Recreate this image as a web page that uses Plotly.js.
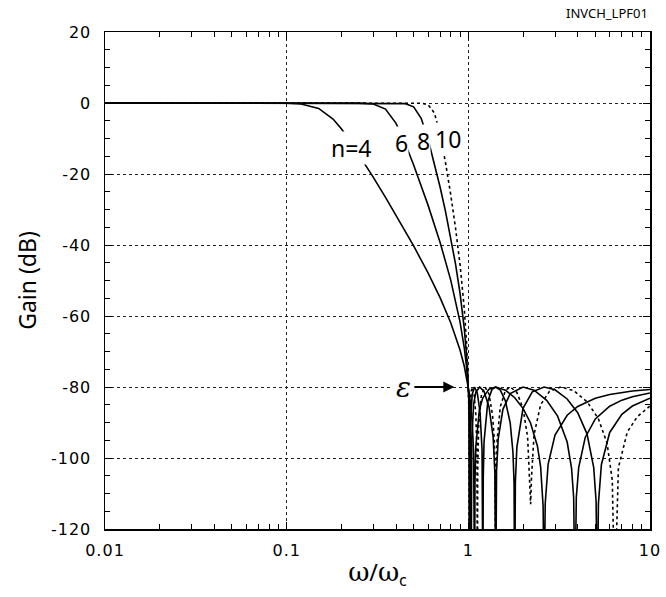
<!DOCTYPE html>
<html>
<head>
<meta charset="utf-8">
<script src="https://cdn.plot.ly/plotly-3.0.1.min.js"></script>
<style>
html,body{margin:0;padding:0;background:#fff;}
#chart{width:666px;height:597px;}
#chart .xtick text, #chart .ytick text{letter-spacing:1px;}
</style>
</head>
<body>
<div id="chart"></div>
<script>
// Normalised frequency (ω/ωc) and gain (dB), one pair per filter order
const w4 = [0.01,0.05,0.1,0.12,0.15,0.18,0.2,0.22,0.25,0.3,0.35,0.4,0.45,0.5,0.6,0.7,0.8,0.9,0.95,0.98,1,1.01,1.03,1.05,1.07,1.078,1.0824,1.088,1.1,1.15,1.2,1.3,1.4142,1.6,1.8,2,2.2,2.4,2.5,2.58,2.6131,2.65,2.75,3,3.5,4,5,6,7,8,10];
const g4 = [0,0,-0.07,-0.29,-1.52,-4.53,-7.27,-10.2,-14.49,-20.95,-26.59,-31.59,-36.11,-40.27,-47.85,-54.9,-61.9,-69.59,-74.17,-77.44,-80,-81.46,-84.93,-89.76,-98.75,-108,-140,-106.2,-96.6,-86.47,-83.13,-80.6,-80,-80.88,-83.01,-86.02,-90.13,-96.6,-102.5,-113.5,-140,-112.8,-101.7,-93.56,-87.95,-85.49,-83.19,-82.11,-81.51,-81.14,-80.72];

const w6 = [0.01,0.1,0.2,0.25,0.3,0.35,0.4,0.45,0.5,0.55,0.6,0.7,0.8,0.9,0.95,0.98,1,1.01,1.02,1.03,1.033,1.0353,1.038,1.045,1.07,1.1,1.1547,1.22,1.3,1.37,1.4,1.4142,1.43,1.46,1.55,1.7,2,2.3,2.7,3.1,3.5,3.7,3.8,3.8637,3.93,4.05,4.4,5,6,7,8,10];
const g6 = [0,0,0,-0.03,-0.29,-1.72,-5.72,-11.47,-17.47,-23.24,-28.77,-39.35,-49.89,-61.64,-69.01,-74.77,-80,-83.56,-88.6,-98.5,-105.9,-140,-104.5,-94.2,-84.82,-81.46,-80,-81.22,-85.6,-94.2,-104.3,-140,-103.6,-94.7,-86.29,-81.86,-80,-80.88,-83.77,-88.2,-95.5,-102.9,-111.1,-140,-111.1,-102.7,-94.2,-89.0,-85.42,-83.7,-82.73,-81.67];

const w8 = [0.01,0.1,0.3,0.4,0.45,0.5,0.55,0.6,0.65,0.7,0.75,0.8,0.85,0.9,0.95,0.98,1,1.005,1.012,1.018,1.0196,1.022,1.03,1.05,1.0824,1.12,1.16,1.19,1.198,1.2027,1.208,1.22,1.28,1.35,1.4142,1.5,1.6,1.7,1.76,1.785,1.8,1.815,1.85,2,2.25,2.6131,3,3.5,4,4.5,4.9,5.05,5.1258,5.2,5.4,6,7,8,10];
const g8 = [0,0,0,-0.02,-0.18,-1.08,-4.31,-10.13,-16.9,-23.81,-30.76,-37.86,-45.32,-53.56,-63.53,-71.67,-80,-83.13,-89.6,-103.8,-140,-100.7,-88.9,-82.07,-80,-81.65,-87.03,-97.8,-106.5,-140,-105.6,-95.5,-84.04,-80.67,-80,-80.89,-83.94,-90.1,-98.3,-106.9,-140,-106.9,-96.9,-86.02,-81.35,-80,-80.8,-83.37,-87.23,-93.2,-102.7,-112.2,-140,-112.9,-101.9,-92.8,-87.7,-85.37,-83.15];

const w10 = [0.01,0.1,0.4,0.5,0.55,0.6,0.65,0.7,0.75,0.8,0.85,0.9,0.95,0.98,1,1.004,1.009,1.011,1.0125,1.014,1.02,1.035,1.0515,1.075,1.1,1.115,1.12,1.1223,1.126,1.14,1.18,1.2361,1.3,1.36,1.39,1.405,1.4142,1.424,1.44,1.5,1.6,1.7013,1.85,2,2.12,2.18,2.2027,2.225,2.3,2.5,2.8,3.2361,3.8,4.5,5.2,5.8,6.2,6.3925,6.7,7.5,8.5,10];
const g10 = [0,0,0,-0.01,-0.06,-0.47,-2.77,-8.84,-17.03,-25.83,-35.15,-45.45,-57.95,-68.36,-80,-84.04,-92.7,-100.5,-140,-100.7,-87.96,-81.31,-80,-81.77,-87.87,-97.7,-108,-140,-103.8,-90.7,-82.22,-80,-81.97,-88.05,-95.1,-103.6,-140,-103.3,-95.0,-85.54,-80.98,-80,-81.51,-86.02,-94.1,-105.6,-113,-105.9,-93.4,-85.0,-81.18,-80,-81.03,-84.14,-88.95,-95.8,-106.2,-140,-102.7,-92.7,-88.38,-85.37];

const orders = ['n=4','6','8','10'];
const yTickVals = [-120,-100,-80,-60,-40,-20,0,20];
const yTickText = ['-120','-100','-80','-60','-40','-20','0','20'];
const xTickVals = [0.01,0.1,1,10];
const xTickText = ['0.01','0.1','1','10'];

const lineStyle = {color:'#000', width:1.6};
const traces = [
  {x:w4, y:g4, name:orders[0], mode:'lines', line:Object.assign({}, lineStyle), hoverinfo:'skip'},
  {x:w6, y:g6, name:orders[1], mode:'lines', line:Object.assign({}, lineStyle), hoverinfo:'skip'},
  {x:w8, y:g8, name:orders[2], mode:'lines', line:Object.assign({}, lineStyle), hoverinfo:'skip'},
  {x:w10, y:g10, name:orders[3], mode:'lines', line:Object.assign({}, lineStyle, {dash:'dot'}), hoverinfo:'skip'},
  // invisible carrier so that the mirrored (top/right) tick axes get drawn
  {x:w4, y:g4, xaxis:'x2', yaxis:'y2', mode:'lines', line:{width:0, color:'rgba(0,0,0,0)'}, hoverinfo:'skip'}
];

const font = 'Noto Sans, DejaVu Sans, sans-serif';
const labelFont = {family:font, size:23, color:'#000'};
const tickFont = {family:'DejaVu Sans, sans-serif', size:16, color:'#000'};

const layout = {
  width:666, height:597,
  margin:{l:105, r:16, t:32, b:68},
  paper_bgcolor:'#fff', plot_bgcolor:'#fff',
  showlegend:false,
  font:{family:font, color:'#000'},
  xaxis:{
    type:'log', range:[-2,1], tickmode:'array', tickvals:xTickVals, ticktext:xTickText,
    showline:true, linecolor:'#000', linewidth:1.5, mirror:true,
    ticks:'inside', ticklen:7, tickcolor:'#000', tickwidth:1,
    minor:{ticks:'inside', ticklen:5, tickcolor:'#000', dtick:'D1', showgrid:false},
    showgrid:true, gridcolor:'#222', griddash:'dot', gridwidth:1,
    zeroline:false, ticklabelstandoff:6,
    tickfont:tickFont,
    title:{text:'<span style="font-family:DejaVu Serif,serif;font-size:26px">ω</span>/<span style="font-family:DejaVu Serif,serif;font-size:26px">ω</span><sub>c</sub>', font:{family:font, size:23, color:'#000'}, standoff:6}
  },
  xaxis2:{
    type:'log', range:[-2,1], overlaying:'x', side:'top', anchor:'y',
    tickmode:'array', tickvals:xTickVals, showticklabels:false,
    ticks:'inside', ticklen:7, tickcolor:'#000', tickwidth:1,
    minor:{ticks:'inside', ticklen:5, tickcolor:'#000', dtick:'D1', showgrid:false},
    showgrid:false, zeroline:false, showline:false
  },
  yaxis:{
    range:[-120,20], tickmode:'array', tickvals:yTickVals, ticktext:yTickText,
    showline:true, linecolor:'#000', linewidth:1.5, mirror:true,
    ticks:'inside', ticklen:7, tickcolor:'#000', tickwidth:1,
    minor:{ticks:'inside', ticklen:5, tickcolor:'#000', dtick:5, showgrid:false},
    showgrid:true, gridcolor:'#222', griddash:'dot', gridwidth:1,
    zeroline:false, ticklabelstandoff:9,
    tickfont:tickFont,
    title:{text:'Gain (dB)', font:{family:font, size:23, color:'#000'}, standoff:12}
  },
  yaxis2:{
    range:[-120,20], overlaying:'y', side:'right', anchor:'x',
    tickmode:'array', tickvals:yTickVals, showticklabels:false,
    ticks:'inside', ticklen:7, tickcolor:'#000', tickwidth:1,
    minor:{ticks:'inside', ticklen:5, tickcolor:'#000', dtick:5, showgrid:false},
    showgrid:false, zeroline:false, showline:false
  },
  annotations:[
    {x:Math.log10(0.228), y:-12.8, xref:'x', yref:'y', text:orders[0], showarrow:false, font:labelFont, bgcolor:'#fff', borderpad:0},
    {x:Math.log10(0.430), y:-11.2, xref:'x', yref:'y', text:orders[1], showarrow:false, font:labelFont, bgcolor:'#fff', borderpad:0},
    {x:Math.log10(0.570), y:-10.7, xref:'x', yref:'y', text:orders[2], showarrow:false, font:labelFont, bgcolor:'#fff', borderpad:0},
    {x:Math.log10(0.769), y:-10.2, xref:'x', yref:'y', text:orders[3], showarrow:false, font:labelFont, bgcolor:'#fff', borderpad:0},
    {x:0, y:-80, xref:'x', yref:'y', text:'<i>ε</i>', showarrow:true, ax:-65, ay:0,
     arrowhead:2, arrowsize:1.1, arrowwidth:2, arrowcolor:'#000', standoff:14,
     font:{family:'DejaVu Serif, serif', size:28, color:'#000'}, bgcolor:'#fff', borderpad:3},
    {x:1, y:1, xref:'paper', yref:'paper', xanchor:'right', yanchor:'bottom', yshift:8,
     text:'INVCH_LPF01', showarrow:false, font:{family:font, size:13, color:'#000'}}
  ]
};

Plotly.newPlot('chart', traces, layout, {staticPlot:true});
</script>
</body>
</html>
